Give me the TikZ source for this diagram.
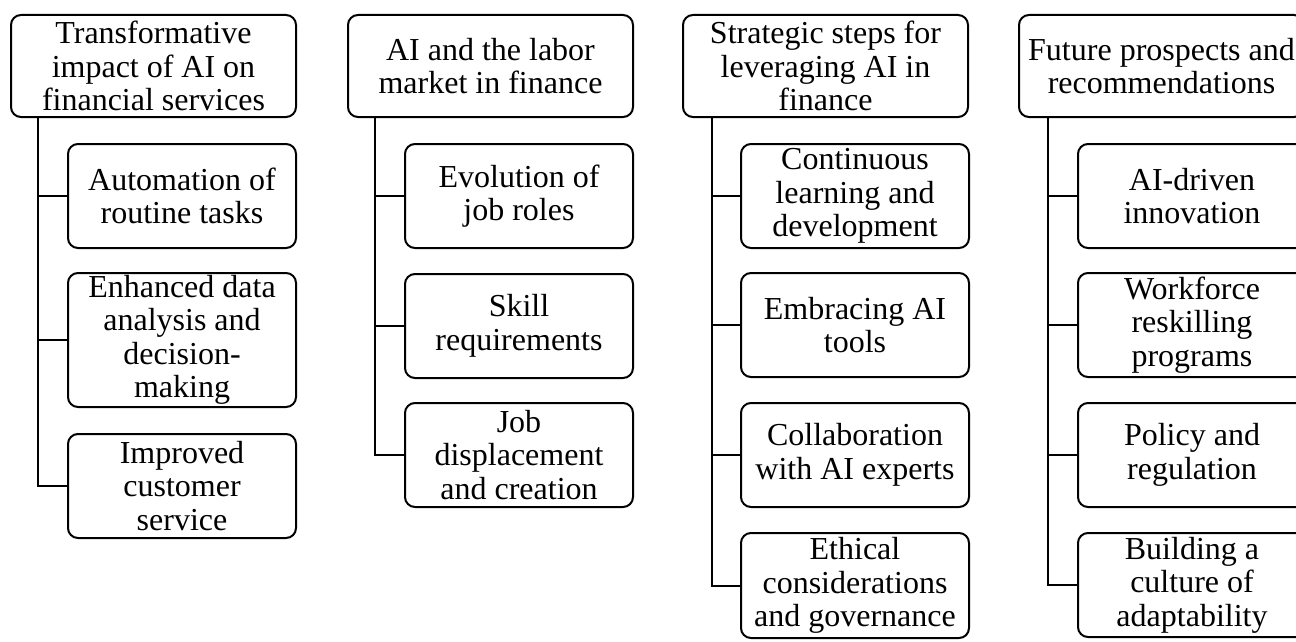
\documentclass[tikz,border=0pt]{standalone}
\usepackage{fontspec}
\setmainfont{Liberation Serif}
\begin{document}
\begin{tikzpicture}[x=1pt,y=1pt,
  box/.style={draw, line width=2pt, rounded corners=10pt, align=center,
    anchor=north west, inner xsep=2pt, inner ysep=2pt,
    font=\fontsize{32}{33.5}\selectfont},
  head/.style={box, minimum width=285pt, minimum height=102pt},
  item/.style={box, minimum width=228pt, minimum height=104pt},
  link/.style={line width=2pt}]
\useasboundingbox (0,0) rectangle (1296,-642);
\clip (0,0) rectangle (1296,-642);

% Column 1
\node[head] (h1) at (10,-14) {Transformative\\impact of AI on\\financial services};
\node[item] (c11) at (67,-143) {Automation of\\routine tasks};
\node[item, minimum height=134pt] (c12) at (67,-272) {Enhanced data\\analysis and\\decision-\\making};
\node[item] (c13) at (67,-433) {Improved\\customer\\service};

% Column 2
\node[head] (h2) at (347,-14) {AI and the labor\\market in finance};
\node[item] (c21) at (404,-143) {Evolution of\\job roles};
\node[item] (c22) at (404,-273) {Skill\\requirements};
\node[item] (c23) at (404,-402) {Job\\displacement\\and creation};

% Column 3
\node[head] (h3) at (682,-14) {Strategic steps for\\leveraging AI in\\finance};
\node[item] (c31) at (740,-143) {Continuous\\learning and\\development};
\node[item] (c32) at (740,-272) {Embracing AI\\tools};
\node[item] (c33) at (740,-402) {Collaboration\\with AI experts};
\node[item, minimum height=105pt] (c34) at (740,-532) {Ethical\\considerations\\and governance};

% Column 4
\node[head] (h4) at (1018,-14) {Future prospects and\\recommendations};
\node[item] (c41) at (1077,-143) {AI-driven\\innovation};
\node[item] (c42) at (1077,-272) {Workforce\\reskilling\\programs};
\node[item] (c43) at (1077,-402) {Policy and\\regulation};
\node[item] (c44) at (1077,-532) {Building a\\culture of\\adaptability};

% Trunks and branches
\path (h1.south west) ++(28,0) coordinate (t1);
\path (h2.south west) ++(28,0) coordinate (t2);
\path (h3.south west) ++(30,0) coordinate (t3);
\path (h4.south west) ++(30,0) coordinate (t4);

\draw[link] (t1) |- (c13.west);
\draw[link] (t1 |- c11.west) -- (c11.west);
\draw[link] (t1 |- c12.west) -- (c12.west);

\draw[link] (t2) |- (c23.west);
\draw[link] (t2 |- c21.west) -- (c21.west);
\draw[link] (t2 |- c22.west) -- (c22.west);

\draw[link] (t3) |- (c34.west);
\draw[link] (t3 |- c31.west) -- (c31.west);
\draw[link] (t3 |- c32.west) -- (c32.west);
\draw[link] (t3 |- c33.west) -- (c33.west);

\draw[link] (t4) |- (c44.west);
\draw[link] (t4 |- c41.west) -- (c41.west);
\draw[link] (t4 |- c42.west) -- (c42.west);
\draw[link] (t4 |- c43.west) -- (c43.west);
\end{tikzpicture}
\end{document}
